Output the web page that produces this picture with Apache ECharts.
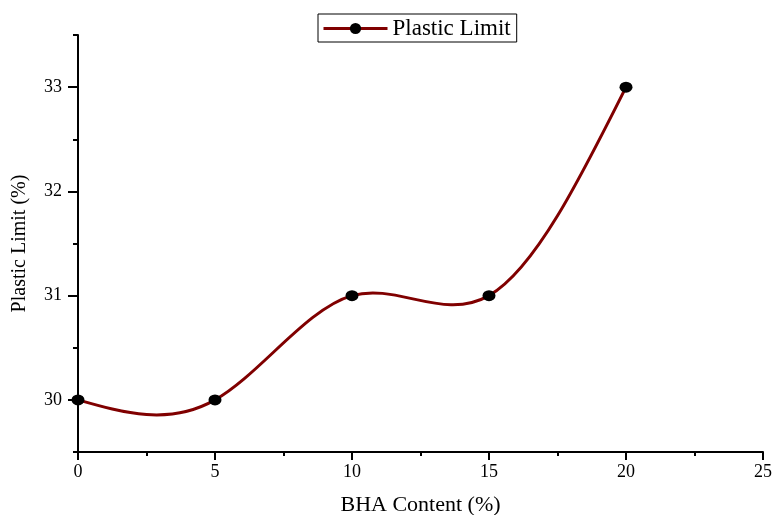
<!DOCTYPE html>
<html>
<head>
<meta charset="utf-8">
<script src="https://cdn.jsdelivr.net/npm/echarts@6/dist/echarts.min.js"></script>
<style>html,body{margin:0;padding:0;background:#fff}#c{width:772px;height:515px}</style>
</head>
<body>
<div id="c"></div>
<script>
const bhaContent = [0, 5, 10, 15, 20];
const plasticLimit = [30, 30, 31, 31, 33];
const yMajorTicks = [30, 31, 32, 33];
const yMinorTicks = [29.5, 30.5, 31.5, 32.5, 33.5];
const seriesName = 'Plastic Limit';
const xTitle = 'BHA Content (%)';
const yTitle = 'Plastic Limit (%)';

// natural cubic spline slopes (dy/dx) at each data point, computed from the data
function splineSlopes(xs, ys) {
  const n = xs.length;
  const h = [], M = new Array(n).fill(0);
  for (let i = 0; i < n - 1; i++) h.push(xs[i + 1] - xs[i]);
  const a = [], b = [], c = [], d = [];
  for (let i = 1; i < n - 1; i++) {
    a.push(h[i - 1]); b.push(2 * (h[i - 1] + h[i])); c.push(h[i]);
    d.push(6 * ((ys[i + 1] - ys[i]) / h[i] - (ys[i] - ys[i - 1]) / h[i - 1]));
  }
  const m = b.length;
  for (let i = 1; i < m; i++) {
    const w = a[i] / b[i - 1];
    b[i] -= w * c[i - 1]; d[i] -= w * d[i - 1];
  }
  const sol = new Array(m);
  for (let i = m - 1; i >= 0; i--) sol[i] = (d[i] - (i < m - 1 ? c[i] * sol[i + 1] : 0)) / b[i];
  for (let i = 0; i < m; i++) M[i + 1] = sol[i];
  const slopes = [];
  for (let i = 0; i < n; i++) {
    if (i < n - 1) slopes.push((ys[i + 1] - ys[i]) / h[i] - h[i] * (2 * M[i] + M[i + 1]) / 6);
    else slopes.push((ys[i] - ys[i - 1]) / h[i - 1] + h[i - 1] * (M[i - 1] + 2 * M[i]) / 6);
  }
  return slopes;
}
const slopes = splineSlopes(bhaContent, plasticLimit);

const font = 'Liberation Serif';
const lineColor = '#800000';
const chart = echarts.init(document.getElementById('c'));
chart.setOption({
  animation: false,
  backgroundColor: '#fff',
  grid: {left: 78, right: 9, top: 35, bottom: 63, containLabel: false, outerBoundsMode: 'none'},
  legend: {
    left: 318, top: 14,
    borderColor: '#000', borderWidth: 1,
    padding: [3, 6, 2, 4],
    itemWidth: 64, itemHeight: 14, itemGap: 4,
    lineStyle: {opacity: 1, color: lineColor, width: 3},
    textStyle: {fontFamily: font, fontSize: 23, color: '#000'},
    data: [seriesName]
  },
  xAxis: {
    type: 'value', min: 0, max: 25, interval: 5,
    name: xTitle, nameLocation: 'middle', nameGap: 42,
    nameTextStyle: {fontFamily: font, fontSize: 22, color: '#000'},
    axisLine: {show: true, onZero: false, lineStyle: {color: '#000', width: 2}},
    axisTick: {show: true, length: 8, lineStyle: {color: '#000', width: 2}},
    minorTick: {show: true, splitNumber: 2, length: 4, lineStyle: {color: '#000', width: 2}},
    axisLabel: {fontFamily: font, fontSize: 18, color: '#000', margin: 11},
    splitLine: {show: false}
  },
  yAxis: [{
    type: 'value', min: 29.5, max: 33.5,
    name: yTitle, nameLocation: 'middle', nameGap: 48, nameRotate: 90,
    nameTextStyle: {fontFamily: font, fontSize: 20, color: '#000'},
    axisLine: {show: true, onZero: false, lineStyle: {color: '#000', width: 2}},
    axisTick: {show: true, customValues: yMajorTicks, length: 10, lineStyle: {color: '#000', width: 2}},
    axisLabel: {customValues: yMajorTicks, fontFamily: font, fontSize: 18, color: '#000', margin: 16},
    splitLine: {show: false}
  }, {
    type: 'value', min: 29.5, max: 33.5, position: 'left', offset: 0,
    axisLine: {show: false},
    axisTick: {show: true, customValues: yMinorTicks, length: 5, lineStyle: {color: '#000', width: 2}},
    axisLabel: {show: false},
    splitLine: {show: false}
  }],
  series: [{
    name: 'spline',
    type: 'custom',
    data: bhaContent.map((x, i) => [x, plasticLimit[i]]),
    z: 2,
    silent: true,
    renderItem: function (params, api) {
      const i = params.dataIndex;
      if (i >= bhaContent.length - 1) return null;
      const x0 = bhaContent[i], x1 = bhaContent[i + 1];
      const y0 = plasticLimit[i], y1 = plasticLimit[i + 1];
      const h = x1 - x0;
      const p0 = api.coord([x0, y0]);
      const c1 = api.coord([x0 + h / 3, y0 + slopes[i] * h / 3]);
      const c2 = api.coord([x1 - h / 3, y1 - slopes[i + 1] * h / 3]);
      const p1 = api.coord([x1, y1]);
      return {
        type: 'bezierCurve',
        shape: {x1: p0[0], y1: p0[1], cpx1: c1[0], cpy1: c1[1], cpx2: c2[0], cpy2: c2[1], x2: p1[0], y2: p1[1]},
        style: {stroke: lineColor, lineWidth: 3, fill: null}
      };
    }
  }, {
    name: seriesName,
    type: 'line',
    data: bhaContent.map((x, i) => [x, plasticLimit[i]]),
    symbol: 'circle',
    symbolSize: [13, 11],
    lineStyle: {color: lineColor, width: 3, opacity: 0},
    itemStyle: {color: '#000'},
    z: 3
  }]
});
</script>
</body>
</html>
